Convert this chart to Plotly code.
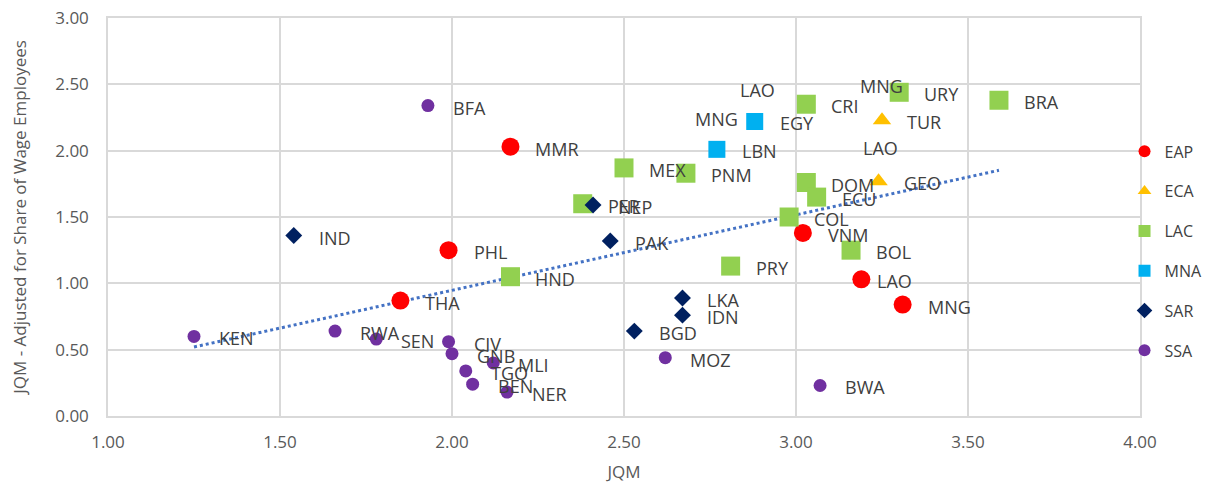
"""Job quality: JQM vs JQM adjusted for share of wage employees, by region."""

import numpy as np
import plotly.graph_objects as go

# --- data ---
eap_names = ["MMR", "PHL", "THA", "VNM", "LAO", "MNG"]
eap_x = [2.17, 1.99, 1.85, 3.02, 3.19, 3.31]
eap_y = [2.03, 1.25, 0.87, 1.38, 1.03, 0.84]

eca_names = ["TUR", "GEO"]
eca_x = [3.25, 3.24]
eca_y = [2.23, 1.77]

lac_names = ["URY", "BRA", "CRI", "MEX", "PNM", "PER", "DOM", "ECU",
             "COL", "BOL", "PRY", "HND"]
lac_x = [3.30, 3.59, 3.03, 2.50, 2.68, 2.38, 3.03, 3.06, 2.98, 3.16, 2.81, 2.17]
lac_y = [2.44, 2.38, 2.35, 1.87, 1.83, 1.60, 1.76, 1.65, 1.50, 1.25, 1.13, 1.05]

mna_names = ["EGY", "LBN"]
mna_x = [2.88, 2.77]
mna_y = [2.22, 2.01]

sar_names = ["NEP", "PAK", "IND", "LKA", "IDN", "BGD"]
sar_x = [2.41, 2.46, 1.54, 2.67, 2.67, 2.53]
sar_y = [1.59, 1.32, 1.36, 0.89, 0.76, 0.64]

ssa_names = ["BFA", "KEN", "RWA", "SEN", "CIV", "GNB", "MLI", "TGO",
             "BEN", "NER", "MOZ", "BWA"]
ssa_x = [1.93, 1.25, 1.66, 1.78, 1.99, 2.00, 2.12, 2.04, 2.06, 2.16, 2.62, 3.07]
ssa_y = [2.34, 0.60, 0.64, 0.58, 0.56, 0.47, 0.40, 0.34, 0.24, 0.18, 0.44, 0.23]

# data labels left floating in the original chart (not attached to a marker)
stray_names = ["LAO", "MNG", "MNG", "LAO"]
stray_x = [2.83, 2.70, 3.18, 3.19]
stray_y = [2.46, 2.24, 2.49, 2.02]

x_ticks = [1.0, 1.5, 2.0, 2.5, 3.0, 3.5, 4.0]
y_ticks = [0.0, 0.5, 1.0, 1.5, 2.0, 2.5, 3.0]

# --- styling ---
FONT = "Open Sans"
LABEL_COLOR = "#404040"
AXIS_COLOR = "#595959"
GRID = "#d9d9d9"

series = [
    ("EAP", eap_names, eap_x, eap_y, "#ff0000", "circle", 18),
    ("ECA", eca_names, eca_x, eca_y, "#ffc000", "triangle-up", 16),
    ("LAC", lac_names, lac_x, lac_y, "#92d050", "square", 19),
    ("MNA", mna_names, mna_x, mna_y, "#00b0f0", "square", 17),
    ("SAR", sar_names, sar_x, sar_y, "#002060", "diamond", 13),
    ("SSA", ssa_names, ssa_x, ssa_y, "#7030a0", "circle", 13),
]

fig = go.Figure()

# linear trendline over all countries
all_x = np.concatenate([np.array(s[2]) for s in series])
all_y = np.concatenate([np.array(s[3]) for s in series])
slope, intercept = np.polyfit(all_x, all_y, 1)
trend_x = np.array([all_x.min(), all_x.max()])
fig.add_trace(
    go.Scatter(
        x=trend_x,
        y=slope * trend_x + intercept,
        mode="lines",
        line=dict(color="#4472c4", width=3, dash="dot"),
        showlegend=False,
        hoverinfo="skip",
    )
)

for name, labels, xs, ys, color, symbol, size in series:
    fig.add_trace(
        go.Scatter(
            x=xs,
            y=ys,
            mode="markers",
            name=name,
            legendgroup=name,
            text=labels,
            marker=dict(color=color, symbol=symbol, size=size, line=dict(width=0)),
        )
    )
    for lbl, xv, yv in zip(labels, xs, ys):
        # the EAP LAO label sits closer to its marker in the original
        shift = 14 if (name == "EAP" and lbl == "LAO") else 23
        fig.add_annotation(
            x=xv, y=yv, text=lbl, showarrow=False,
            xanchor="left", yanchor="middle", xshift=shift, yshift=-2,
            font=dict(family=FONT, size=18, color=LABEL_COLOR),
        )

for lbl, xv, yv in zip(stray_names, stray_x, stray_y):
    fig.add_annotation(
        x=xv, y=yv, text=lbl, showarrow=False,
        xanchor="left", yanchor="middle",
        font=dict(family=FONT, size=18, color=LABEL_COLOR),
    )

# the page body has an 8px margin, so offsets are 8px smaller than on screen
fig.update_layout(
    width=1211,
    height=489,
    margin=dict(l=100, r=79, t=10, b=81, autoexpand=False),
    paper_bgcolor="white",
    plot_bgcolor="white",
    font=dict(family=FONT, size=17, color=AXIS_COLOR),
    legend=dict(
        x=0.985, y=0.7075, xanchor="left", yanchor="top",
        itemsizing="constant", tracegroupgap=16,
        font=dict(family=FONT, size=16, color=LABEL_COLOR),
        bgcolor="rgba(0,0,0,0)",
    ),
)
fig.update_xaxes(
    range=[1, 4], tickvals=x_ticks, tickformat=".2f",
    showgrid=True, gridcolor=GRID, gridwidth=1.5,
    showline=True, linecolor=GRID, linewidth=1.5, mirror=True,
    zeroline=False, ticks="", ticklabelstandoff=10, automargin=False,
    ticklabeloverflow="allow",
    title=dict(text="JQM", standoff=14, font=dict(size=17, color=AXIS_COLOR)),
)
fig.update_yaxes(
    range=[0, 3], tickvals=y_ticks, tickformat=".2f",
    showgrid=True, gridcolor=GRID, gridwidth=1.5,
    showline=True, linecolor=GRID, linewidth=1.5, mirror=True,
    zeroline=False, ticks="", ticklabelstandoff=14, automargin=False,
    ticklabeloverflow="allow",
    title=dict(text="JQM - Adjusted for Share of Wage Employees", standoff=24,
               font=dict(size=17, color=AXIS_COLOR)),
)

fig.write_html("out.html")
